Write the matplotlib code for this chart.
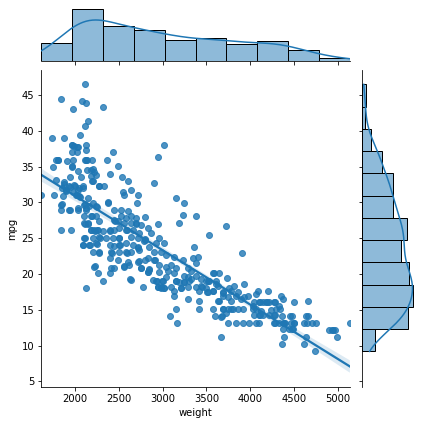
import numpy as np
import pandas as pd
import matplotlib
matplotlib.use("Agg")
import matplotlib.pyplot as plt
import seaborn as sns

# car weight (lbs) and fuel economy (mpg)
weight = [
    2110, 1843, 2076, 2125, 1980, 2323, 2144, 2110, 2060, 1740, 1870, 1965, 1988, 2129,
    2026, 1965, 2125, 2430, 2019, 1786, 1809, 1904, 1977, 2118, 2141, 2198, 2361, 1752,
    1969, 2495, 2137, 2179, 2209, 2217, 2236, 2038, 2396, 2064, 1942, 2179, 2540, 1786,
    3013, 2944, 3721, 3530, 1613, 1760, 3081, 3157, 3161,
    # dense middle part
    1878, 1935, 1992, 2031, 1973, 1897, 2088, 2012, 2050, 1859, 2202, 2278, 2335, 2602,
    2907, 2545, 2640, 2716, 2564,
    3155, 3250, 2705, 2373, 2145, 2107, 2164, 2202, 2240, 1840, 1935, 2031, 2126, 1840,
    2450, 2526, 2602, 2526, 2583, 2640, 2697, 2793, 3231, 3185, 2107, 2183, 2240, 2278,
    2107, 2145, 2450, 2488, 2564, 2640, 2697, 2754, 2831, 2945, 3383,
    1840, 1954, 2183, 2221, 2259, 2316, 2393, 2450, 2507, 2583, 2659, 2735, 2869, 2964,
    3021, 2107, 2202, 2278, 2354, 2431, 2507, 2640, 2716, 2793, 2926, 3364, 3402,
    2088, 2164, 2240, 2393, 2450, 2507, 2583, 2659, 2716, 2850, 2907, 2983, 3040, 3135,
    3231, 3345, 3383, 2202, 2278, 2412, 2507, 2583, 2640, 2735,
    2393, 2488, 2602, 2716, 2793, 2831, 2907, 2964, 3040, 3097, 3155, 3288, 3326, 2221,
    2412, 2450, 2564, 2621, 2754, 2850, 2964, 3059, 3135, 3250, 3288, 3326, 3383,
    2259, 2393, 2640, 2831, 2888, 2926, 3002, 3040, 3155, 3193, 3250, 3307, 2316, 2773,
    2945, 2983, 3021, 3097, 3135, 3212, 3288, 3383, 2126, 3135, 3288,
    # heavy cars
    3903, 3572, 3648, 3732, 3438, 3495, 3533, 3610, 3438, 3495, 3419, 3514, 3572, 3610,
    3629, 3686, 3762, 3819, 3781, 3857, 3934, 3629, 3419, 3419, 3686, 3743, 3781, 3838,
    3895, 3934, 3972, 4067, 4086, 4208, 3686, 3743, 3800, 3857, 3915, 4029, 4048, 4105,
    4143, 4181, 4219, 4276, 3572, 3598, 3667, 3724, 3781, 4048, 4105, 4143, 4219, 4276,
    4295, 4029, 4067, 4124, 4238, 3743, 3838, 3915, 3991, 4067, 4105, 4276, 3667,
    4357, 4380, 4330, 4341, 4368, 4456, 4482, 4330, 4387, 4463, 4501, 4444, 4482, 4501,
    4665, 4635, 4662, 4654, 4711, 4749, 4902, 4940, 4966, 4997, 5140, 4387, 4368, 4616,
    4635, 4738,
]
mpg = [
    46.5, 44.5, 44.2, 43.9, 43.1, 43.4, 41.4, 40.7, 39.4, 39.0, 39.0, 38.0, 37.9, 38.0,
    37.7, 37.1, 37.3, 37.0, 37.0, 36.0, 36.0, 35.8, 36.0, 36.0, 36.0, 36.0, 36.0, 35.0,
    35.1, 35.1, 34.5, 34.6, 34.7, 34.2, 33.9, 34.4, 34.0, 33.6, 33.5, 33.7, 33.5, 33.1,
    38.0, 36.3, 26.7, 25.4, 31.0, 31.0, 14.2, 15.1, 13.1,
    32.8, 32.3, 32.5, 31.8, 31.4, 31.6, 32.3, 31.1, 30.9, 30.9, 33.0, 32.3, 32.3, 33.0,
    32.7, 31.4, 31.8, 31.0, 31.0,
    30.6, 29.9, 29.9, 30.0, 30.6, 29.7, 29.5, 29.9, 29.5, 29.7, 29.0, 29.0, 29.0, 29.0,
    29.0, 29.0, 28.8, 28.1, 27.8, 28.1, 27.8, 28.0, 28.2, 27.2, 28.1, 28.1, 28.1, 27.4,
    27.1, 27.1, 27.6, 27.4, 27.1, 27.1, 27.1, 26.9, 26.4, 27.0, 28.1,
    26.2, 26.1, 26.2, 26.2, 26.2, 26.0, 26.1, 26.2, 26.4, 26.2, 26.2, 25.7, 25.7, 25.0,
    24.3, 25.0, 25.0, 25.2, 25.0, 25.1, 25.1, 25.2, 25.0, 24.8, 24.3, 23.8, 22.4,
    24.1, 24.1, 24.3, 24.1, 23.9, 24.1, 24.3, 24.1, 23.8, 23.8, 23.1, 23.1, 22.6, 22.4,
    21.9, 22.2, 21.5, 23.1, 23.1, 23.1, 23.1, 23.1, 23.1, 23.3,
    22.2, 22.0, 21.7, 21.7, 21.9, 22.2, 21.9, 21.2, 21.0, 21.2, 20.8, 20.8, 20.5, 21.0,
    20.9, 20.9, 21.0, 21.2, 20.8, 20.6, 20.3, 20.5, 20.1, 19.8, 19.6, 19.3, 19.8,
    20.1, 20.1, 19.2, 20.3, 19.2, 19.1, 19.1, 19.6, 19.1, 18.9, 18.9, 19.1, 19.1, 18.2,
    18.2, 18.2, 18.1, 18.2, 17.7, 18.1, 18.2, 18.2, 18.1, 17.0, 16.5,
    23.0, 20.2, 20.1, 19.5, 19.3, 19.0, 19.0, 19.1, 18.3, 18.1, 17.6, 17.5, 17.7, 18.6,
    18.4, 17.5, 18.1, 18.3, 17.6, 17.5, 18.6, 16.2, 16.2, 15.1, 17.0, 16.8, 16.2, 17.0,
    16.5, 16.8, 17.0, 17.2, 17.7, 17.6, 15.1, 15.1, 15.1, 15.1, 15.1, 15.6, 16.1, 16.1,
    16.1, 16.1, 16.1, 16.1, 15.1, 14.2, 14.0, 14.6, 15.1, 14.3, 14.3, 14.3, 14.3, 14.3,
    15.1, 15.1, 15.1, 14.9, 15.0, 13.2, 13.2, 13.2, 13.2, 13.2, 13.2, 13.2, 11.2,
    17.0, 16.5, 15.6, 15.1, 14.2, 14.2, 14.2, 13.2, 13.2, 13.2, 13.2, 12.3, 12.3, 16.1,
    16.2, 14.2, 14.2, 13.2, 13.2, 13.2, 12.2, 12.2, 12.2, 11.2, 13.2, 11.2, 10.2, 10.2,
    11.2, 9.2,
]

# points hidden under others in the crowded spots (estimated from the marginal bars)
weight_hidden = [
    1940, 1900, 1870, 1850, 1800, 1960, 1850, 1940, 1960,
    2000, 2040, 2090, 2190, 2020, 2270, 2030, 2055, 2130, 2190, 2110, 2245,
    2110, 2180, 2150, 2255, 2285, 2225, 2110, 2170, 2270, 2095, 2245, 2030, 2120, 2230,
    2400, 2500, 2590, 2455, 2510, 2590, 2420, 2560, 2630, 2380,
    2720, 2790, 2910, 2725, 2845, 2835, 2935, 2750, 2995, 2950, 2980, 3015, 2700, 2800,
    3150, 3245, 3205,
    3445, 3505, 3580, 3640, 3690, 3520, 3585, 3690, 3680,
    4110, 4280, 4290, 4395, 4110, 4190, 4290, 4380, 4375,
    4490, 4620, 4505, 4950,
]
mpg_hidden = [
    32.2, 31.7, 32.6, 32.0, 36.0, 35.0, 29.8, 29.0, 38.0,
    32.3, 32.0, 32.0, 33.0, 31.1, 32.3, 29.2, 30.8, 29.2, 28.1, 29.8, 29.4,
    27.0, 26.1, 27.0, 26.1, 25.1, 26.0, 25.0, 24.0, 23.0, 24.0, 24.2, 37.8, 36.0, 21.1,
    26.0, 25.0, 26.1, 27.4, 24.0, 23.0, 23.0, 21.1, 19.3, 29.9,
    23.7, 24.6, 22.0, 21.8, 20.7, 20.3, 19.1, 20.9, 19.1, 18.2, 18.1, 18.1, 27.0, 24.9,
    19.0, 18.9, 18.1,
    18.2, 17.5, 17.7, 16.2, 17.4, 19.0, 20.1, 15.1, 14.1,
    14.3, 13.2, 14.3, 13.2, 16.1, 16.1, 16.1, 12.3, 13.2,
    12.3, 13.2, 13.2, 12.2,
]

df = pd.DataFrame({"weight": weight + weight_hidden, "mpg": mpg + mpg_hidden})

g = sns.JointGrid(data=df, x="weight", y="mpg", height=6)
g.ax_joint.set_xlim(df["weight"].min(), df["weight"].max())
sns.regplot(data=df, x="weight", y="mpg", ax=g.ax_joint, truncate=False, seed=0)
sns.histplot(data=df, x="weight", bins=10, kde=True, ax=g.ax_marg_x,
             edgecolor="black", linewidth=1)
sns.histplot(data=df, y="mpg", bins=12, kde=True, ax=g.ax_marg_y,
             edgecolor="black", linewidth=1)
g.ax_marg_x.set_xlabel("")
g.ax_marg_x.set_ylabel("")
g.ax_marg_y.set_xlabel("")
g.ax_marg_y.set_ylabel("")
g.ax_joint.set_xlabel("weight")
g.ax_joint.set_ylabel("mpg")

fig = g.figure
fig.set_size_inches(421 / 72, 424 / 72)
g.ax_joint.set_position([0.098, 0.087, 0.733, 0.748])
g.ax_marg_x.set_position([0.098, 0.856, 0.733, 0.128])
g.ax_marg_y.set_position([0.860, 0.087, 0.126, 0.748])

fig.savefig("out.png", dpi=72)
